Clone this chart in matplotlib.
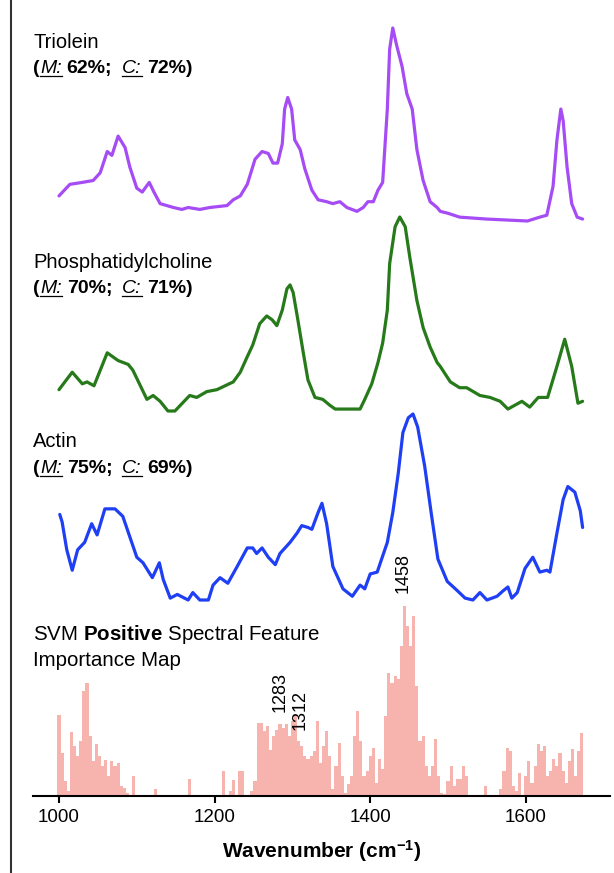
import numpy as np
import matplotlib
matplotlib.use("Agg")
import matplotlib.pyplot as plt
from matplotlib.lines import Line2D

plt.rcParams["font.family"] = "Liberation Sans"
plt.rcParams["mathtext.fontset"] = "custom"
plt.rcParams["mathtext.rm"] = "Liberation Sans"
plt.rcParams["mathtext.it"] = "Liberation Sans:italic"
plt.rcParams["mathtext.bf"] = "Liberation Sans:bold"

# ── data (normalised intensities) ───────────────────────────────────────
triolein_wn = [1000, 1014, 1030, 1044, 1053, 1062, 1068, 1076, 1085, 1091, 1100, 1107,
               1116, 1122, 1130, 1147, 1158, 1166, 1181, 1194, 1216, 1224, 1233, 1242,
               1252, 1261, 1269, 1275, 1281, 1287, 1290, 1294, 1299, 1303, 1310, 1316,
               1325, 1333, 1344, 1352, 1361, 1370, 1383, 1391, 1397, 1404, 1410, 1416,
               1422, 1425, 1429, 1434, 1441, 1447, 1454, 1460, 1468, 1477, 1486, 1490,
               1500, 1515, 1550, 1602, 1618, 1627, 1635, 1640, 1645, 1648, 1653, 1659,
               1666, 1673]
triolein_int = [0.13, 0.19, 0.20, 0.21, 0.25, 0.36, 0.34, 0.44, 0.38, 0.28, 0.17, 0.15,
                0.20, 0.15, 0.09, 0.07, 0.06, 0.07, 0.06, 0.07, 0.08, 0.11, 0.13, 0.19,
                0.32, 0.36, 0.35, 0.30, 0.30, 0.40, 0.58, 0.64, 0.58, 0.42, 0.37, 0.27,
                0.16, 0.11, 0.10, 0.09, 0.10, 0.07, 0.05, 0.07, 0.10, 0.10, 0.16, 0.20,
                0.58, 0.89, 1.00, 0.91, 0.80, 0.66, 0.58, 0.37, 0.21, 0.10, 0.07, 0.05,
                0.04, 0.02, 0.01, 0.00, 0.02, 0.03, 0.18, 0.42, 0.58, 0.52, 0.28, 0.09,
                0.02, 0.01]

pc_wn = [1000, 1017, 1030, 1036, 1045, 1062, 1076, 1089, 1095, 1113, 1121, 1130,
         1140, 1149, 1168, 1177, 1190, 1203, 1224, 1233, 1242, 1249, 1258, 1267,
         1274, 1280, 1287, 1293, 1297, 1301, 1307, 1314, 1320, 1329, 1339, 1348,
         1355, 1365, 1378, 1387, 1393, 1402, 1410, 1416, 1422, 1425, 1432, 1438,
         1445, 1451, 1460, 1468, 1477, 1486, 1490, 1503, 1515, 1524, 1541, 1554,
         1567, 1577, 1595, 1605, 1616, 1628, 1640, 1650, 1659, 1667, 1673]
pc_int = [0.11, 0.20, 0.14, 0.15, 0.13, 0.30, 0.26, 0.24, 0.21, 0.06, 0.08, 0.05,
          0.00, 0.00, 0.08, 0.07, 0.10, 0.11, 0.15, 0.20, 0.28, 0.34, 0.45, 0.49,
          0.47, 0.44, 0.52, 0.63, 0.65, 0.61, 0.47, 0.30, 0.16, 0.07, 0.06, 0.03,
          0.01, 0.01, 0.01, 0.01, 0.06, 0.14, 0.25, 0.35, 0.52, 0.76, 0.95, 1.00,
          0.95, 0.79, 0.57, 0.43, 0.33, 0.25, 0.23, 0.15, 0.12, 0.12, 0.08, 0.07,
          0.05, 0.01, 0.05, 0.02, 0.07, 0.07, 0.23, 0.37, 0.23, 0.04, 0.05]

actin_wn = [1001, 1004, 1010, 1017, 1024, 1033, 1042, 1049, 1059, 1072, 1082, 1091,
            1100, 1108, 1120, 1129, 1134, 1143, 1152, 1166, 1172, 1181, 1192, 1198,
            1207, 1217, 1229, 1242, 1249, 1254, 1261, 1269, 1278, 1284, 1297, 1306,
            1312, 1320, 1325, 1333, 1338, 1344, 1352, 1365, 1377, 1387, 1393, 1400,
            1409, 1422, 1429, 1436, 1442, 1449, 1455, 1461, 1470, 1479, 1487, 1499,
            1512, 1522, 1532, 1541, 1550, 1563, 1571, 1577, 1582, 1589, 1599, 1609,
            1618, 1627, 1631, 1640, 1648, 1654, 1663, 1670, 1673]
actin_int = [0.46, 0.42, 0.27, 0.16, 0.27, 0.31, 0.41, 0.35, 0.49, 0.49, 0.45, 0.34,
             0.23, 0.20, 0.12, 0.20, 0.11, 0.01, 0.03, 0.00, 0.04, 0.00, 0.00, 0.08,
             0.12, 0.09, 0.18, 0.28, 0.28, 0.25, 0.28, 0.23, 0.19, 0.25, 0.31, 0.36,
             0.40, 0.39, 0.38, 0.47, 0.52, 0.41, 0.18, 0.06, 0.02, 0.08, 0.06, 0.14,
             0.15, 0.31, 0.47, 0.68, 0.90, 0.98, 1.00, 0.93, 0.72, 0.45, 0.22, 0.10,
             0.05, 0.01, 0.00, 0.04, 0.00, 0.02, 0.05, 0.07, 0.01, 0.04, 0.17, 0.23,
             0.15, 0.16, 0.15, 0.36, 0.54, 0.61, 0.58, 0.48, 0.39]

# SVM positive feature importance, 4 cm-1 grid from 1000 to 1672
imp_wn = np.arange(1000, 1673, 4)
imp_val = [81, 43, 15, 5, 64, 50, 40, 55, 105, 113, 60, 35, 52, 40, 30, 36, 20, 35,
           30, 33, 10, 8, 3, 0, 20, 0, 0, 0, 0, 0, 0, 7, 0, 0, 0, 0, 0, 0,
           0, 0, 0, 0, 17, 0, 0, 0, 0, 0, 0, 0, 0, 0, 0, 25, 0, 5, 16, 0,
           25, 25, 0, 0, 5, 15, 73, 73, 65, 70, 46, 60, 66, 72, 68, 72, 60, 75,
           81, 55, 50, 40, 37, 40, 45, 75, 33, 50, 65, 40, 7, 30, 53, 20, 3, 12,
           20, 60, 85, 55, 20, 25, 40, 48, 13, 37, 27, 80, 123, 113, 120, 117, 150, 190,
           170, 150, 180, 110, 55, 60, 30, 20, 30, 57, 20, 3, 2, 15, 30, 10, 17, 17,
           30, 20, 0, 0, 0, 0, 0, 10, 0, 0, 0, 0, 7, 25, 48, 45, 10, 5,
           23, 0, 20, 35, 13, 30, 52, 45, 50, 20, 25, 37, 30, 43, 25, 13, 35, 47,
           20, 45, 63]

peak_labels = ["1283", "1312", "1458"]
peak_label_x = [1284, 1310, 1442]

names = ["Triolein", "Phosphatidylcholine", "Actin"]
m_acc = [62, 70, 75]
c_acc = [72, 71, 69]

# ── layout ───────────────────────────────────────────────────────────────
W, H = 614, 873
fig = plt.figure(figsize=(W / 100, H / 100), dpi=100)
ax = fig.add_axes([33 / W, 77 / H, 577 / W, 796 / H])
ax.set_xlim(966.6, 1708.2)
ax.set_ylim(0, 796)

colors = ["#a64cf4", "#267a1a", "#1f3ff5"]
bases = [575, 385, 196]
amps = [193, 194, 186]
spectra = [(triolein_wn, triolein_int), (pc_wn, pc_int), (actin_wn, actin_int)]
title_top = [40, 260, 440]   # centre of first text line, px from top

for (wn, inten), col, b, a in zip(spectra, colors, bases, amps):
    ax.plot(wn, b + a * np.asarray(inten), color=col, lw=2.3,
            solid_joinstyle="round", solid_capstyle="round")

renderer = fig.canvas.get_renderer()


def put(x, ytop, s, fs=14.5, **kw):
    # x, ytop in px from left / top, text baseline
    t = fig.text(x / W, 1 - ytop / H, s, fontsize=fs, va="baseline", ha="left", **kw)
    return t.get_window_extent(renderer)


def chain(x, ybase, parts):
    for s, kw, ul, gap in parts:
        bb = put(x, ybase, s, fs=14, **kw)
        if ul:
            yl = (H - ybase - 2.5) / H
            fig.add_artist(Line2D([bb.x0 / W, bb.x1 / W], [yl, yl],
                                  transform=fig.transFigure, color="black", lw=0.9))
        x = bb.x1 + gap


for name, m, c, yc in zip(names, m_acc, c_acc, title_top):
    put(33, yc + 7.5, name)
    bold = dict(fontweight="bold")
    ital = dict(fontstyle="italic")
    chain(33, yc + 33, [("(", bold, False, 0.5),
                        ("M:", ital, True, 5),
                        (f"{m}%;", bold, False, 10),
                        ("C:", ital, True, 5),
                        (f"{c}%)", bold, False, 0)])

imp = np.asarray(imp_val, dtype=float)
ax.bar(imp_wn, imp / imp.max() * 190, width=4, color="#f7b4af", linewidth=0)

put(33, 640.5, r"SVM $\mathbf{Positive}$ Spectral Feature", fs=14.8)
put(33, 665.5, "Importance Map", fs=14.8)

label_bottom = [84, 66, 203]
for lab, x, yb in zip(peak_labels, peak_label_x, label_bottom):
    ax.text(x, yb, lab, rotation=90, ha="center", va="bottom", fontsize=13)

for s in ["left", "right", "top"]:
    ax.spines[s].set_visible(False)
ax.spines["bottom"].set_linewidth(1.5)
ax.set_yticks([])
ax.set_xticks([1000, 1200, 1400, 1600])
ax.tick_params(axis="x", length=5, width=1.5, labelsize=13.5, pad=4)
ax.set_xlabel(r"Wavenumber (cm$^{\mathbf{-1}}$)", fontsize=15, fontweight="bold",
              labelpad=9)

# frame line down the left side of the panel
fig.add_artist(Line2D([11 / W, 11 / W], [0, 1], transform=fig.transFigure,
                      color="#333333", lw=1.5))

fig.savefig("out.png", dpi=100)
